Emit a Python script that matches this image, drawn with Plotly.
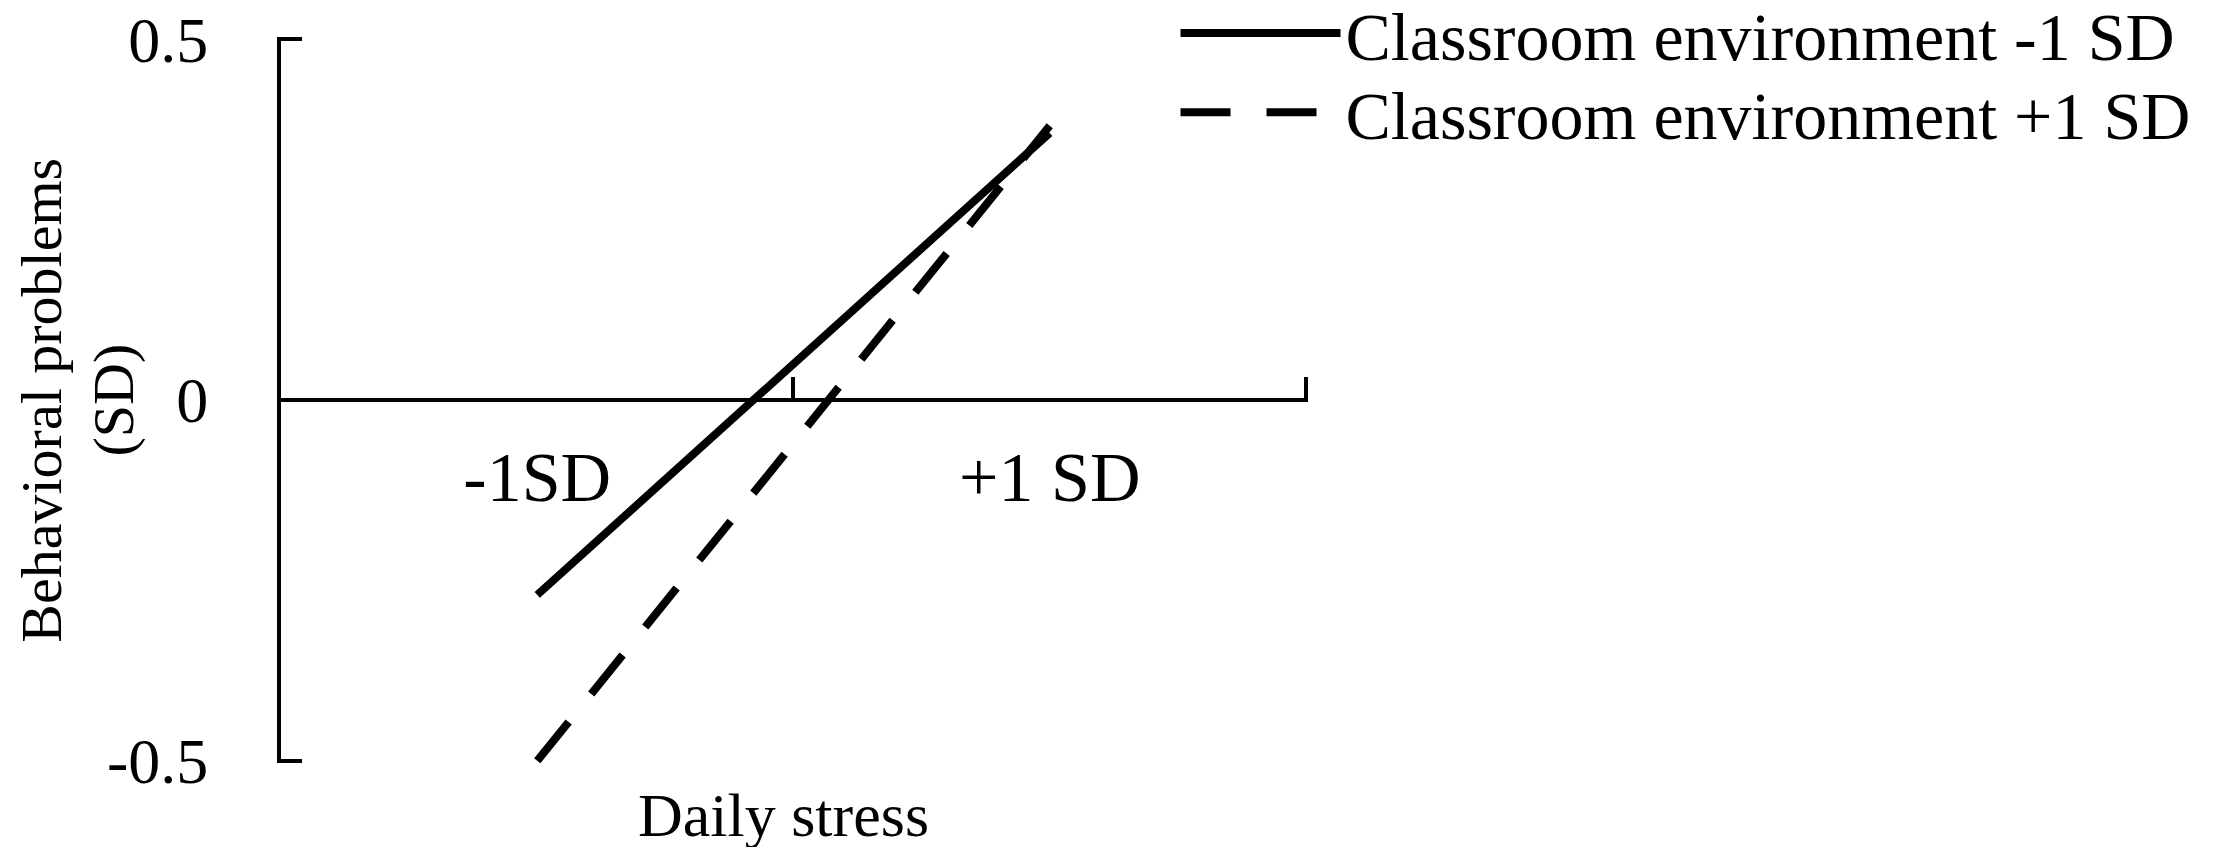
import plotly.graph_objects as go

# daily stress levels (x categories)
stress_levels = ["-1SD", "+1 SD"]

# behavioral problems (SD) at each stress level
low_env = [-0.27, 0.37]    # classroom environment -1 SD
high_env = [-0.50, 0.38]   # classroom environment +1 SD

y_ticks = [-0.5, 0, 0.5]
y_tick_text = ["-0.5", "0", "0.5"]

FONT = "Liberation Serif"

fig = go.Figure()
fig.add_trace(go.Scatter(
    x=stress_levels, y=low_env, mode="lines",
    name="Classroom environment -1 SD",
    line=dict(color="black", width=8),
    legend="legend",
))
fig.add_trace(go.Scatter(
    x=stress_levels, y=high_env, mode="lines",
    name="Classroom environment +1 SD",
    line=dict(color="black", width=8, dash="50px,36px"),
    legend="legend2",
))

legend_style = dict(
    x=0.871, xanchor="left", yanchor="middle",
    font=dict(family=FONT, size=68, color="black"),
    itemwidth=160, bgcolor="rgba(0,0,0,0)",
)

fig.update_layout(
    width=2219, height=847,
    margin=dict(l=273, r=919, t=29, b=92, autoexpand=False),
    plot_bgcolor="white", paper_bgcolor="white",
    font=dict(family=FONT, size=62, color="black"),
    showlegend=True,
    legend=dict(legend_style, y=1.005),
    legend2=dict(legend_style, y=0.896),
    xaxis=dict(
        type="category", categoryorder="array", categoryarray=stress_levels,
        range=[-0.5, 1.504], tickson="boundaries",
        ticks="inside", ticklen=21, tickwidth=4, tickcolor="black",
        showline=True, linewidth=4, linecolor="black",
        showgrid=False, zeroline=False,
        anchor="free", position=0.5,
        ticklabelstandoff=15,
        tickfont=dict(family=FONT, size=70),
    ),
    yaxis=dict(
        range=[-0.503, 0.503], tickvals=y_ticks, ticktext=y_tick_text,
        ticks="inside", ticklen=21, tickwidth=4, tickcolor="black",
        showline=True, linewidth=4, linecolor="black",
        showgrid=False, zeroline=False,
        ticklabelstandoff=56, ticklabeloverflow="allow",
        tickfont=dict(family=FONT, size=64),
    ),
    annotations=[
        dict(text="Daily stress", xref="paper", yref="paper",
             x=0.489, y=-0.072, xanchor="center", yanchor="middle",
             showarrow=False, borderpad=0, font=dict(family=FONT, size=62)),
        dict(text="Behavioral problems", xref="paper", yref="paper",
             x=-0.234, y=0.5, xanchor="center", yanchor="middle",
             textangle=-90, showarrow=False, font=dict(family=FONT, size=58)),
        dict(text="(SD)", xref="paper", yref="paper",
             x=-0.164, y=0.5, xanchor="center", yanchor="middle",
             textangle=-90, showarrow=False, font=dict(family=FONT, size=58)),
    ],
)

fig.write_html("out.html")
